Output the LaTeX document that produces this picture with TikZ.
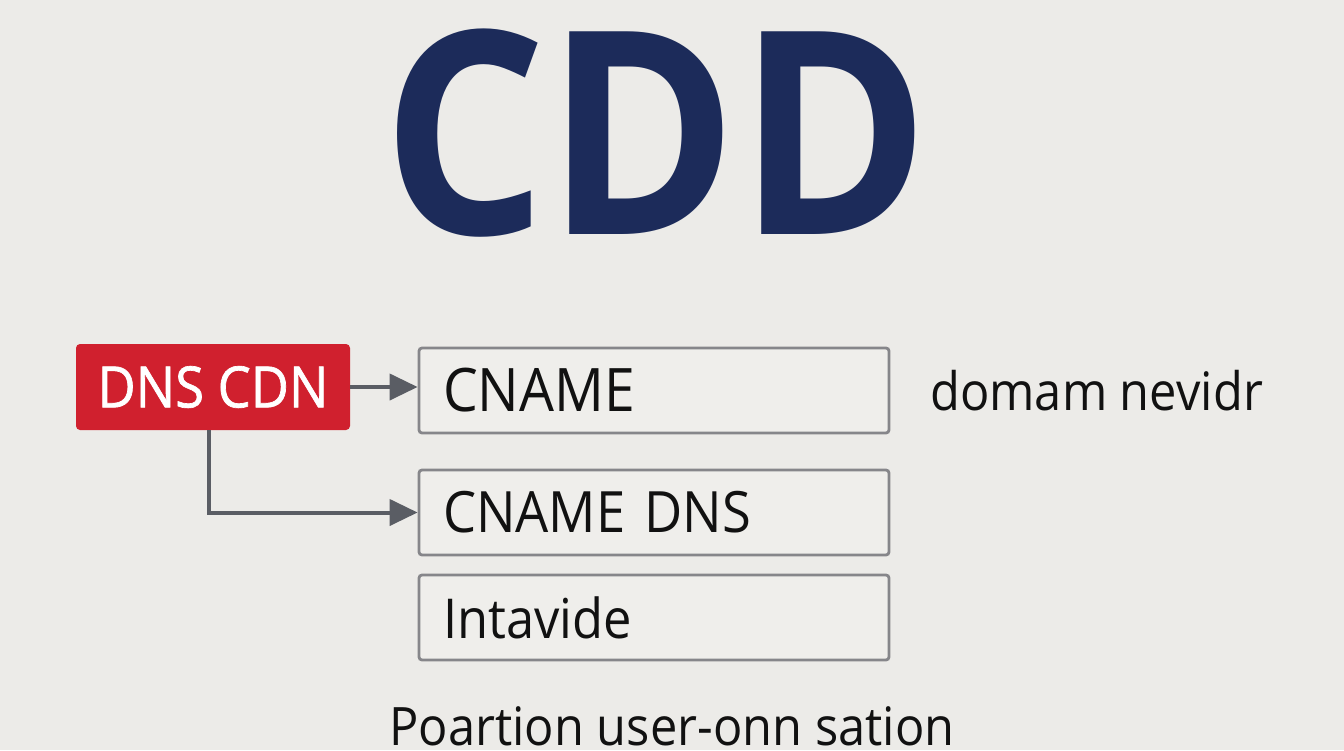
\documentclass[tikz,border=0pt]{standalone}
\usepackage{fontspec}
\setmainfont{Open Sans}[FakeStretch=0.92]
\newfontfamily\titlefont{Open Sans}[FakeStretch=0.91]
\newfontfamily\semifont{Open Sans}[FakeStretch=0.92,FakeBold=1.2]
\usetikzlibrary{arrows.meta}
\definecolor{bg}{HTML}{ECEBE8}
\definecolor{boxfill}{HTML}{EFEEEB}
\definecolor{boxline}{HTML}{86868A}
\definecolor{navy}{HTML}{1C2B5A}
\definecolor{redbox}{HTML}{D0202E}
\definecolor{arrowc}{HTML}{5A5D64}
\definecolor{ink}{HTML}{111111}
\tikzset{
  grbox/.style={draw=boxline, line width=2.8pt, fill=boxfill, rounded corners=3pt,
    minimum height=85pt, text width=422pt, inner xsep=24pt, align=left, text=ink},
  rdbox/.style={fill=redbox, rounded corners=4pt, minimum width=274pt, minimum height=86pt,
    inner sep=0pt, font=\semifont\fontsize{57}{60}\selectfont, text=white},
  conn/.style={draw=arrowc, line width=4pt, -{Triangle[length=28pt,width=26pt]}},
  plain/.style={font=\fontsize{53}{56}\selectfont, text=ink, inner sep=0pt, anchor=base west},
}
\begin{document}
\begin{tikzpicture}[x=1pt,y=-1pt]
\fill[bg] (0,0) rectangle (1344,750);
\useasboundingbox (0,0) rectangle (1344,750);
\node[font=\titlefont\fontsize{284}{284}\selectfont\bfseries, text=navy, inner sep=0pt, anchor=base] (title) at (656,234) {CDD};
\node[rdbox] (dns) at (213,387) {DNS CDN};
\node[grbox, font=\fontsize{60}{62}\selectfont] (c1) at (654,390.5) {CNAME};
\node[grbox, font=\fontsize{57}{60}\selectfont] (c2) at (654,512.5) {CNAME DNS};
\node[grbox, font=\fontsize{55}{58}\selectfont] (c3) at (654,617.5) {Intavide};
\node[plain] (dom) at (930,410) {domam nevidr};
\node[plain, anchor=base] (por) at (672,745) {Poartion user-onn sation};
\coordinate (d2) at ([xshift=-4pt]dns.south);
\draw[conn] (dns.east) -- (dns.east -| c1.west);
\draw[conn] (d2) |- (c2.west);
\end{tikzpicture}
\end{document}
